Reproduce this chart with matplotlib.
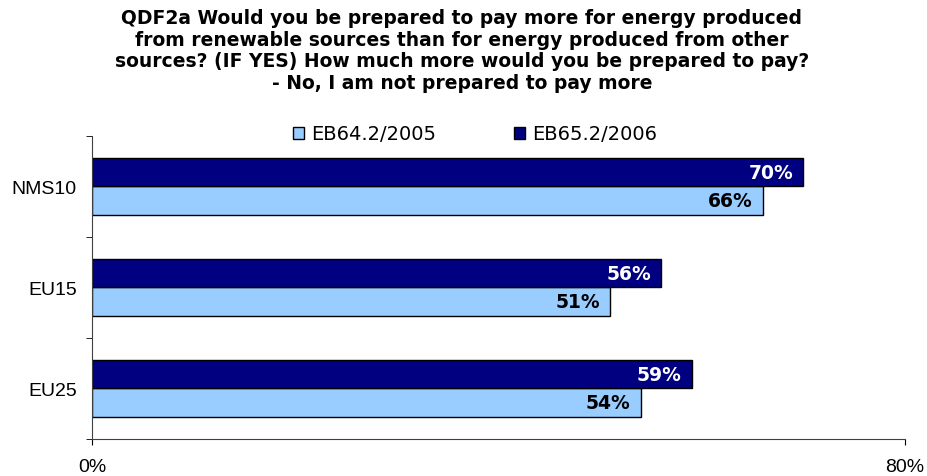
import matplotlib
matplotlib.use("Agg")
import matplotlib.pyplot as plt
import numpy as np

categories = ["EU25", "EU15", "NMS10"]
wave_2005 = [54, 51, 66]
wave_2006 = [59, 56, 70]
series_names = ["EB64.2/2005", "EB65.2/2006"]

light = "#99CCFF"
dark = "#000080"

fig = plt.figure(figsize=(9.28, 4.77), dpi=100)
ax = fig.add_axes([0.0991, 0.0776, 0.8761, 0.6352])

y = np.arange(len(categories))
h = 0.285
b05 = ax.barh(y - h / 2, wave_2005, height=h, color=light, edgecolor="black",
              linewidth=1, label=series_names[0])
b06 = ax.barh(y + h / 2, wave_2006, height=h, color=dark, edgecolor="black",
              linewidth=1, label=series_names[1])

# value labels sit inside the bar ends
for bar, v in zip(b05, wave_2005):
    ax.text(v - 1.0, bar.get_y() + bar.get_height() / 2, f"{v}%",
            ha="right", va="center", fontsize=13.5, fontweight="bold", color="black")
for bar, v in zip(b06, wave_2006):
    ax.text(v - 1.0, bar.get_y() + bar.get_height() / 2, f"{v}%",
            ha="right", va="center", fontsize=13.5, fontweight="bold", color="white")

ax.set_xlim(0, 80)
ax.set_ylim(-0.5, 2.5)
ax.set_xticks([0, 80])
ax.set_xticklabels(["0%", "80%"], fontfamily="Liberation Sans", fontsize=14)
ax.set_yticks(y)
ax.set_yticklabels(categories, fontfamily="Liberation Sans", fontsize=14)
ax.set_yticks([-0.5, 0.5, 1.5, 2.5], minor=True)
ax.tick_params(axis="y", which="major", length=0, pad=11)
ax.tick_params(axis="y", which="minor", length=4, direction="out")
ax.tick_params(axis="x", length=4, direction="out", pad=10)
for s in ["top", "right"]:
    ax.spines[s].set_visible(False)
for s in ["left", "bottom"]:
    ax.spines[s].set_color("#404040")

ax.legend(handles=[b05, b06], loc="center", bbox_to_anchor=(475 / 928, 1 - 135 / 477),
          bbox_transform=fig.transFigure, ncol=2, frameon=False, fontsize=14,
          handlelength=0.57, handleheight=0.57, handletextpad=0.36,
          columnspacing=4.0, borderpad=0)

fig.text(462 / 928, 1 - 9 / 477,
         "QDF2a Would you be prepared to pay more for energy produced\n"
         "from renewable sources than for energy produced from other\n"
         "sources? (IF YES) How much more would you be prepared to pay?\n"
         "- No, I am not prepared to pay more",
         ha="center", va="top", fontsize=13.5, fontweight="bold", linespacing=1.18)

fig.savefig("out.png", dpi=100)
